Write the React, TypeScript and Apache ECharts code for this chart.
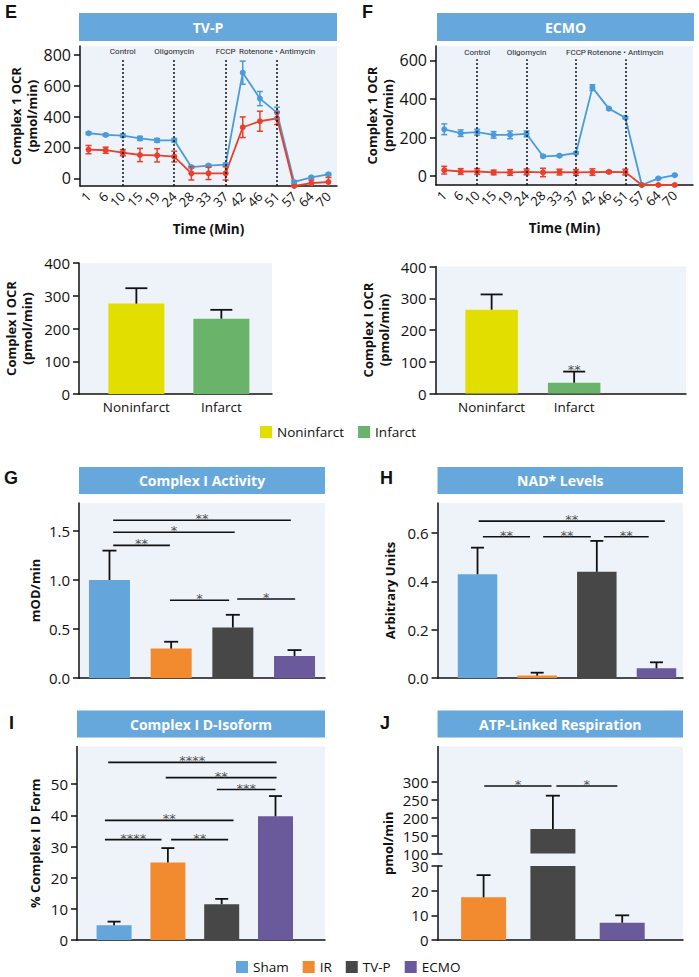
import React, { useEffect, useRef } from "react";
import * as echarts from "echarts";

// ---------- data ----------
const TIMES = ["1", "6", "10", "15", "19", "24", "28", "33", "37", "42", "46", "51", "57", "64", "70"];
const INJECTION_AT = [2, 5, 8, 11];
const INJECTION_LABELS = ["Control", "Oligomycin", "FCCP", "Rotenone • Antimycin"];

const TVP_BLUE = [292, 281, 277, 259, 246, 246, 73, 82, 89, 685, 517, 426, -24, 6, 26];
const TVP_BLUE_ERR = [8, 8, 10, 13, 12, 12, 8, 8, 8, 75, 46, 35, 8, 6, 6];
const TVP_RED = [186, 182, 166, 151, 149, 141, 32, 32, 32, 331, 370, 389, -50, -32, -24];
const TVP_RED_ERR = [27, 20, 20, 43, 43, 35, 43, 40, 43, 67, 65, 40, 6, 20, 30];

const ECMO_BLUE = [243, 223, 228, 214, 214, 219, 103, 106, 120, 459, 350, 303, -46, -12, 5];
const ECMO_BLUE_ERR = [28, 17, 15, 17, 20, 15, 6, 5, 5, 15, 5, 5, 3, 3, 3];
const ECMO_RED = [31, 24, 24, 19, 19, 22, 19, 21, 19, 21, 22, 21, -46, -46, -46];
const ECMO_RED_ERR = [20, 15, 15, 12, 15, 15, 22, 15, 15, 17, 5, 15, 2, 2, 2];

const REGIONS = ["Noninfarct", "Infarct"];
const TVP_BAR = [276, 230];
const TVP_BAR_ERR = [47, 27];
const ECMO_BAR = [264, 34];
const ECMO_BAR_ERR = [48, 35];
const ECMO_BAR_SIG: [number, number, number, string][] = [[1, 1, 70, "**"]];

const GROUPS = ["Sham", "IR", "TV-P", "ECMO"];
const ACTIVITY = [1.0, 0.3, 0.515, 0.225];
const ACTIVITY_ERR = [0.3, 0.07, 0.13, 0.06];
const ACTIVITY_SIG: [number, number, number, string][] = [
  [0.06, 2.94, 1.61, "**"],
  [0.06, 2.03, 1.487, "*"],
  [0.06, 0.98, 1.354, "**"],
  [0.98, 1.94, 0.793, "*"],
  [2.07, 3.01, 0.806, "*"],
];
const NAD = [0.43, 0.01, 0.44, 0.04];
const NAD_ERR = [0.11, 0.012, 0.128, 0.025];
const NAD_SIG: [number, number, number, string][] = [
  [0.02, 3.14, 0.65, "**"],
  [0.09, 0.88, 0.585, "**"],
  [1.1, 1.9, 0.585, "**"],
  [2.12, 2.87, 0.585, "**"],
];
const DISOFORM = [4.7, 24.9, 11.5, 39.7];
const DISOFORM_ERR = [1.2, 4.6, 1.7, 6.5];
const DISOFORM_SIG: [number, number, number, string][] = [
  [-0.11, 3.02, 57.0, "****"],
  [0.96, 3.02, 52.1, "**"],
  [1.91, 3.0, 48.3, "***"],
  [-0.17, 2.22, 38.4, "**"],
  [-0.17, 0.88, 32.2, "****"],
  [1.06, 2.12, 32.2, "**"],
];
const ATP_GROUPS = ["IR", "TV-P", "ECMO"];
const ATP = [17.3, 168, 7.0];
const ATP_ERR = [9.0, 93, 3.0];
const ATP_SIG: [number, number, number, string][] = [
  [0.01, 0.98, 288, "*"],
  [1.05, 1.93, 288, "*"],
];

// ---------- styles ----------
const SANS = "'Open Sans', 'Noto Sans', sans-serif";
const BG = "#EEF3FA";
const BANNER = "#67A8DC";
const INK = "#111";
const LINE_BLUE = "#4A9BDD";
const LINE_RED = "#E8412B";
const GROUP_COLORS: Record<string, string> = {
  Sham: "#64A5DB",
  IR: "#F28A30",
  "TV-P": "#474747",
  ECMO: "#6A5A9C",
  Noninfarct: "#E1DE00",
  Infarct: "#6AB36A",
};

const axisLine = { show: true, onZero: false, lineStyle: { color: INK, width: 1.5 } };

function yAxisDef(grid: number, min: number, max: number, ticks: number[], name: string, nameGap: number, fontSize: number, fmt?: (v: number) => string) {
  return {
    type: "value",
    gridIndex: grid,
    position: "left",
    min,
    max,
    axisLine,
    axisTick: { show: true, length: 6, customValues: ticks, lineStyle: { color: INK, width: 1.5 } },
    axisLabel: {
      customValues: ticks,
      fontSize,
      lineHeight: fontSize - 3,
      color: INK,
      fontFamily: SANS,
      margin: 9,
      showMinLabel: true,
      showMaxLabel: true,
      formatter: fmt ? (v: number) => fmt(v) : (v: number) => String(v),
    },
    splitLine: { show: false },
    name,
    nameLocation: "middle",
    nameGap,
    nameTextStyle: { fontSize: 13, fontWeight: "bold", color: INK, fontFamily: SANS, lineHeight: 16 },
  };
}

// inner half of the break ticks on the broken axis of panel J
function breakTickAxis(grid: number, min: number, max: number, at: number) {
  return {
    type: "value",
    gridIndex: grid,
    position: "left",
    offset: 0,
    min,
    max,
    axisLine: { show: false, onZero: false },
    axisTick: { show: true, inside: true, length: 5, customValues: [at], lineStyle: { color: INK, width: 1.5 } },
    axisLabel: { show: false },
    splitLine: { show: false },
  };
}

function xValueAxis(grid: number, min: number, max: number, labels?: string[]) {
  const vals = labels ? labels.map((_, i) => i) : [];
  return {
    type: "value",
    gridIndex: grid,
    position: "bottom",
    min,
    max,
    axisLine,
    axisTick: { show: false },
    axisLabel: labels
      ? { customValues: vals, showMinLabel: true, showMaxLabel: true, formatter: (v: number) => labels[Math.round(v)] ?? "", fontSize: 13.5, color: INK, fontFamily: SANS, margin: 6 }
      : { show: false },
    splitLine: { show: false },
  };
}

const TIME_NAME = {
  name: "Time (Min)",
  nameLocation: "middle",
  nameGap: 36,
  nameTextStyle: { fontSize: 13.5, fontWeight: "bold", color: INK, fontFamily: SANS },
};

function timeAxis(grid: number, withLine: boolean) {
  return {
    type: "category",
    gridIndex: grid,
    position: "bottom",
    data: TIMES,
    boundaryGap: true,
    axisLine: withLine ? axisLine : { show: false },
    axisTick: { show: false },
    axisLabel: {
      interval: 0,
      rotate: 45,
      fontSize: 13,
      color: INK,
      fontFamily: SANS,
      margin: 8,
    },
    splitLine: { show: false },
    ...(withLine ? TIME_NAME : {}),
  };
}

function lineSeries(name: string, grid: number, vals: number[], color: string, mark?: { lo: number; hi: number }) {
  const s: any = {
    name,
    type: "line",
    xAxisIndex: grid,
    yAxisIndex: grid,
    data: vals.map((v, i) => [i, v]),
    symbol: "circle",
    symbolSize: 6,
    lineStyle: { color, width: 1.8 },
    itemStyle: { color },
    z: 3,
  };
  if (mark) {
    s.markLine = {
      silent: true,
      symbol: ["none", "none"],
      lineStyle: { type: [2, 2], color: INK, width: 1.5 },
      label: { show: true, position: "end", formatter: "{b}", fontSize: 8, color: "#222", fontFamily: "Roboto, sans-serif", distance: 3 },
      data: INJECTION_AT.map((x, k) => [
        { coord: [TIMES[x], mark.lo], name: INJECTION_LABELS[k] },
        { coord: [TIMES[x], mark.hi] },
      ]),
    };
  }
  return s;
}

function lineErr(grid: number, vals: number[], errs: number[], color: string) {
  return {
    type: "custom",
    xAxisIndex: grid,
    yAxisIndex: grid,
    silent: true,
    clip: true,
    z: 4,
    data: vals.map((v, i) => [i, v, errs[i]]),
    renderItem: (_p: any, api: any) => {
      const x = api.value(0), v = api.value(1), e = api.value(2);
      const lo = api.coord([x, v - e]);
      const hi = api.coord([x, v + e]);
      const c = 3;
      const st = { stroke: color, lineWidth: 1.5 };
      return {
        type: "group",
        children: [
          { type: "line", shape: { x1: lo[0], y1: lo[1], x2: hi[0], y2: hi[1] }, style: st },
          { type: "line", shape: { x1: lo[0] - c, y1: lo[1], x2: lo[0] + c, y2: lo[1] }, style: st },
          { type: "line", shape: { x1: hi[0] - c, y1: hi[1], x2: hi[0] + c, y2: hi[1] }, style: st },
        ],
      };
    },
  };
}

function barSeries(name: string, grid: number, x: number, v: number, width: number) {
  return {
    name,
    type: "bar",
    xAxisIndex: grid,
    yAxisIndex: grid,
    data: [[x, v]],
    barWidth: width,
    barGap: "-100%",
    clip: true,
    itemStyle: { color: GROUP_COLORS[name] },
    z: 2,
  };
}

function barErr(grid: number, vals: number[], errs: number[], cap: number, xs?: number[]) {
  return {
    type: "custom",
    xAxisIndex: grid,
    yAxisIndex: grid,
    silent: true,
    z: 3,
    data: vals.map((v, i) => [xs ? xs[i] : i, v, errs[i]]),
    renderItem: (_p: any, api: any) => {
      const x = api.value(0), v = api.value(1), e = api.value(2);
      const lo = api.coord([x, v]);
      const hi = api.coord([x, v + e]);
      const st = { stroke: INK, lineWidth: 1.8 };
      return {
        type: "group",
        children: [
          { type: "line", shape: { x1: lo[0], y1: lo[1], x2: hi[0], y2: hi[1] }, style: st },
          { type: "line", shape: { x1: hi[0] - cap / 2, y1: hi[1], x2: hi[0] + cap / 2, y2: hi[1] }, style: st },
        ],
      };
    },
  };
}

function sigSeries(grid: number, sig: [number, number, number, string][]) {
  return {
    type: "custom",
    xAxisIndex: grid,
    yAxisIndex: grid,
    silent: true,
    z: 5,
    data: sig.map((s) => [s[0], s[2]]),
    renderItem: (p: any, api: any) => {
      const s = sig[p.dataIndex];
      const a = api.coord([s[0], s[2]]);
      const b = api.coord([s[1], s[2]]);
      const children: any[] = [];
      if (s[1] !== s[0]) {
        children.push({ type: "line", shape: { x1: a[0], y1: a[1], x2: b[0], y2: b[1] }, style: { stroke: INK, lineWidth: 1.6 } });
      }
      children.push({
        type: "text",
        x: (a[0] + b[0]) / 2,
        y: a[1] + 5,
        style: { text: s[3], fill: "#505050", fontSize: 13, fontFamily: "'DejaVu Sans', sans-serif", align: "center", verticalAlign: "bottom" },
      });
      return { type: "group", children };
    },
  };
}

function banner(x: number, y: number, w: number, h: number, text: string) {
  return [
    { type: "rect", shape: { x, y, width: w, height: h }, style: { fill: BANNER }, silent: true },
    {
      type: "text",
      x: x + w / 2,
      y: y + h / 2,
      style: { text, fill: "#fff", fontSize: 14, fontWeight: "bold", fontFamily: SANS, align: "center", verticalAlign: "middle" },
      silent: true,
    },
  ];
}

function letter(x: number, y: number, t: string) {
  return {
    type: "text",
    x,
    y,
    style: { text: t, fill: INK, fontSize: 18, fontWeight: "bold", fontFamily: "'Liberation Sans', Arial, sans-serif", align: "left", verticalAlign: "top" },
    silent: true,
  };
}

function buildOption() {
  const gridBase = { show: true, backgroundColor: BG, borderWidth: 0, containLabel: false, outerBoundsMode: "none" };
  const plain = { show: false, containLabel: false, outerBoundsMode: "none" };
  const grids = [
    { ...gridBase, left: 80, top: 46, width: 257, height: 140 }, // 0 E line
    { ...plain, left: 436, top: 46, width: 247, height: 139 }, // 1 F line (data)
    { ...gridBase, left: 79, top: 263, width: 193, height: 131 }, // 2 E bar
    { ...gridBase, left: 435.5, top: 266.5, width: 250.5, height: 127 }, // 3 F bar
    { ...gridBase, left: 79, top: 503, width: 246, height: 175 }, // 4 G
    { ...gridBase, left: 437.5, top: 503, width: 245.5, height: 175 }, // 5 H
    { ...gridBase, left: 77, top: 746.5, width: 248, height: 193.5 }, // 6 I
    { ...gridBase, left: 437.5, top: 746.5, width: 245.5, height: 193.5 }, // 7 J background
    { ...plain, left: 437.5, top: 746.5, width: 245.5, height: 107 }, // 8 J upper
    { ...plain, left: 437.5, top: 866, width: 245.5, height: 74 }, // 9 J lower
    { ...gridBase, left: 436, top: 46, width: 257, height: 139, z: -1 }, // 10 F line background
  ];

  const one = (v: number) => v.toFixed(1);
  const xAxes = [
    timeAxis(0, true),
    timeAxis(1, false),
    xValueAxis(2, -0.675, 1.596, REGIONS),
    xValueAxis(3, -0.68, 2.355, REGIONS),
    xValueAxis(4, -0.494, 3.494),
    xValueAxis(5, -0.671, 3.445),
    xValueAxis(6, -0.689, 3.92),
    { type: "value", gridIndex: 7, show: false, min: 0, max: 1 },
    { type: "value", gridIndex: 8, show: false, min: -0.665, max: 2.877 },
    xValueAxis(9, -0.665, 2.877),
    { ...xValueAxis(10, 0, 1), ...TIME_NAME },
  ];
  const yAxes = [
    yAxisDef(0, -50, 858, [0, 200, 400, 600, 800], "Complex 1 OCR\n(pmol/min)", 33, 16),
    yAxisDef(1, -46, 675, [0, 200, 400, 600], "Complex 1 OCR\n(pmol/min)", 40, 16),
    yAxisDef(2, 0, 400, [0, 100, 200, 300, 400], "Complex I OCR\n(pmol/min)", 44, 15),
    yAxisDef(3, 0, 400, [0, 100, 200, 300, 400], "Complex I OCR\n(pmol/min)", 44, 15),
    yAxisDef(4, 0, 1.786, [0, 0.5, 1.0, 1.5], "mOD/min", 36, 15, one),
    yAxisDef(5, 0, 0.725, [0, 0.2, 0.4, 0.6], "Arbitrary Units", 40, 15, one),
    yAxisDef(6, 0, 62.1, [0, 10, 20, 30, 40, 50], "% Complex I D Form", 34, 15),
    {
      type: "value",
      gridIndex: 7,
      position: "left",
      min: 0,
      max: 1,
      axisLine: { show: false },
      axisTick: { show: false },
      axisLabel: { show: false },
      splitLine: { show: false },
      name: "pmol/min",
      nameLocation: "middle",
      nameGap: 43,
      nameTextStyle: { fontSize: 13, fontWeight: "bold", color: INK, fontFamily: SANS },
    },
    { ...yAxisDef(8, 100, 398, [100, 150, 200, 250, 300], "", 0, 15), name: "" },
    { ...yAxisDef(9, 0, 30, [0, 10, 20, 30], "", 0, 15), name: "" },
    { type: "value", gridIndex: 10, show: false, min: 0, max: 1 },
    breakTickAxis(8, 100, 398, 100),
    breakTickAxis(9, 0, 30, 30),
  ];

  const series: any[] = [
    // E line
    lineSeries("E-blue", 0, TVP_BLUE, LINE_BLUE, { lo: -50, hi: 774 }),
    lineSeries("E-red", 0, TVP_RED, LINE_RED),
    lineErr(0, TVP_BLUE, TVP_BLUE_ERR, LINE_BLUE),
    lineErr(0, TVP_RED, TVP_RED_ERR, LINE_RED),
    // F line
    lineSeries("F-blue", 1, ECMO_BLUE, LINE_BLUE, { lo: -46, hi: 606 }),
    lineSeries("F-red", 1, ECMO_RED, LINE_RED),
    lineErr(1, ECMO_BLUE, ECMO_BLUE_ERR, LINE_BLUE),
    lineErr(1, ECMO_RED, ECMO_RED_ERR, LINE_RED),
  ];
  // E/F bars
  REGIONS.forEach((r, i) => {
    series.push(barSeries(r, 2, i, TVP_BAR[i], 56));
    series.push(barSeries(r, 3, i, ECMO_BAR[i], 52.5));
  });
  series.push(barErr(2, TVP_BAR, TVP_BAR_ERR, 22));
  series.push(barErr(3, ECMO_BAR, ECMO_BAR_ERR, 22));
  series.push(sigSeries(3, ECMO_BAR_SIG));
  // G, H, I
  const panels: [number, number[], number[], [number, number, number, string][], number, number][] = [
    [4, ACTIVITY, ACTIVITY_ERR, ACTIVITY_SIG, 41, 14],
    [5, NAD, NAD_ERR, NAD_SIG, 39.5, 13],
    [6, DISOFORM, DISOFORM_ERR, DISOFORM_SIG, 35, 13],
  ];
  panels.forEach(([g, vals, errs, sig, w, cap]) => {
    GROUPS.forEach((name, i) => series.push(barSeries(name, g, i, vals[i], w)));
    series.push(barErr(g, vals, errs, cap));
    series.push(sigSeries(g, sig));
  });
  // J (broken axis)
  ATP_GROUPS.forEach((name, i) => series.push(barSeries(name, 9, i, ATP[i], 45)));
  series.push(barSeries("TV-P", 8, 1, ATP[1], 45));
  series.push(barErr(9, [ATP[0], ATP[2]], [ATP_ERR[0], ATP_ERR[2]], 14, [0, 2]));
  series.push(barErr(8, [ATP[1]], [ATP_ERR[1]], 14, [1]));
  series.push(sigSeries(8, ATP_SIG));

  const legendBase = {
    orient: "horizontal",
    icon: "rect",
    itemWidth: 12,
    itemHeight: 12,
    itemGap: 14,
    padding: 0,
    selectedMode: false,
    textStyle: { fontSize: 13.5, color: INK, fontFamily: SANS },
  };

  return {
    animation: false,
    backgroundColor: "#fff",
    grid: grids,
    xAxis: xAxes,
    yAxis: yAxes,
    series,
    legend: [
      { ...legendBase, data: REGIONS, left: 260, top: 425 },
      { ...legendBase, data: GROUPS, left: 236, top: 960 },
    ],
    graphic: {
      elements: [
        ...banner(79, 13, 258, 28, "TV-P"),
        ...banner(437, 13, 257, 28, "ECMO"),
        ...banner(79, 467, 246, 27, "Complex I Activity"),
        ...banner(437.5, 467, 245.5, 27, "NAD* Levels"),
        ...banner(77, 710.5, 248, 27, "Complex I D-Isoform"),
        ...banner(437.5, 710.5, 245.5, 27, "ATP-Linked Respiration"),
        letter(5, 3, "E"),
        letter(362, 3, "F"),
        letter(4, 469, "G"),
        letter(380, 469, "H"),
        letter(9, 714, "I"),
        letter(380, 714, "J"),
      ],
    },
  };
}

export default function App() {
  const ref = useRef<HTMLDivElement>(null);
  useEffect(() => {
    if (!ref.current) return;
    const chart = echarts.init(ref.current, undefined, { renderer: "svg" });
    chart.setOption(buildOption() as any);
    return () => chart.dispose();
  }, []);
  return <div ref={ref} style={{ position: "fixed", left: 0, top: 0, width: 699, height: 977 }} />;
}
